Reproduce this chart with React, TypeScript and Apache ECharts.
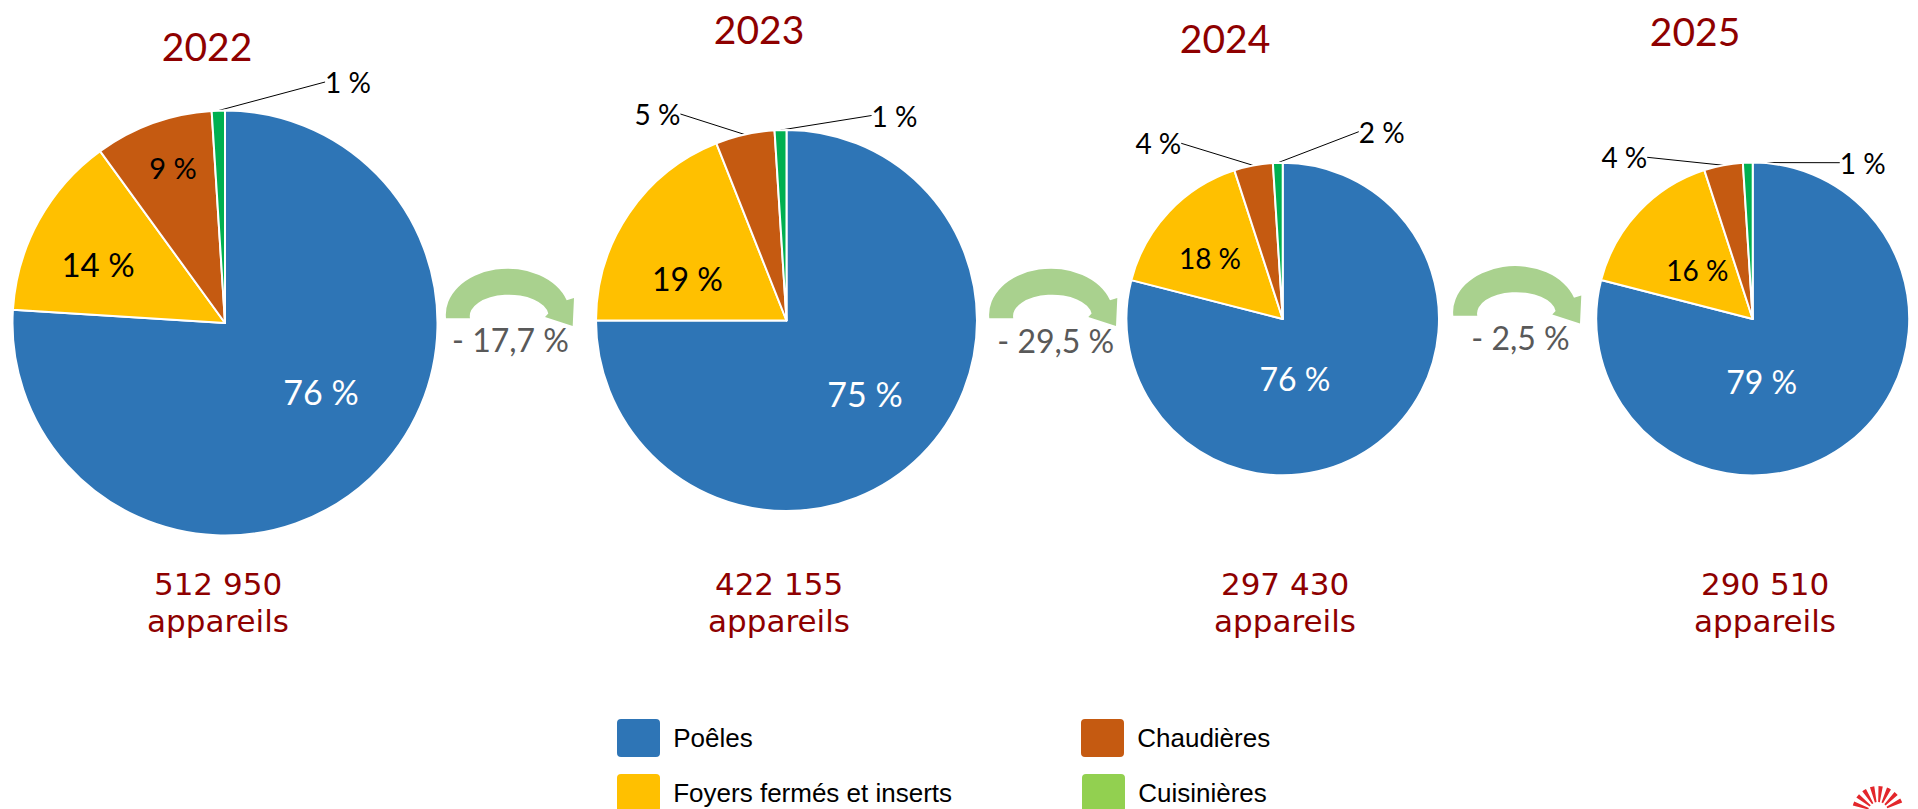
import React, { useEffect, useRef } from "react";
import * as echarts from "echarts";

// ---------------- data ----------------
const categories = ["Poêles", "Foyers fermés et inserts", "Chaudières", "Cuisinières"];
const years = ["2022", "2023", "2024", "2025"];
// slice sizes (percent) as drawn in the reference
const shares2022 = [76, 14, 9, 1];
const shares2023 = [75, 19, 5, 1];
const shares2024 = [79, 16, 4, 1];
const shares2025 = [79, 16, 4, 1];
// printed slice labels
const labels2022 = ["76 %", "14 %", "9 %", "1 %"];
const labels2023 = ["75 %", "19 %", "5 %", "1 %"];
const labels2024 = ["76 %", "18 %", "4 %", "2 %"];
const labels2025 = ["79 %", "16 %", "4 %", "1 %"];
const totals = ["512 950", "422 155", "297 430", "290 510"];
const unitText = "appareils";
const changes = ["- 17,7 %", "- 29,5 %", "- 2,5 %"];

const shares = [shares2022, shares2023, shares2024, shares2025];
const labels = [labels2022, labels2023, labels2024, labels2025];

// ---------------- styles & layout ----------------
const sliceColors = ["#2E75B6", "#FFC000", "#C55A11", "#00B050"];
const legendColors = ["#2E75B6", "#FFC000", "#C55A11", "#92D050"];
const darkRed = "#8E0000";
const arrowGreen = "#A9D18E";
const changeGrey = "#595959";

const pieLayout = [
  {
    cx: 225, cy: 323, r: 212.5, titleX: 207, titleY: 45.5, totalX: 217,
    fs: [34, 33, 29, 28], outside: [false, false, false, true],
    lab: [[96, 68], [-127, -59], [-52, -156], [123, -241]],
  },
  {
    cx: 786.5, cy: 320.5, r: 190.5, titleX: 759, titleY: 28.5, totalX: 778,
    fs: [34, 32, 28, 28], outside: [false, false, true, true],
    lab: [[78.5, 72.5], [-99, -42.5], [-129, -206.5], [108, -205]],
  },
  {
    cx: 1282.7, cy: 319, r: 156.3, titleX: 1225, titleY: 37.5, totalX: 1284,
    fs: [32, 28, 28, 28], outside: [false, false, true, true],
    lab: [[12.3, 59.3], [-72.7, -60.7], [-124.4, -175.7], [99, -187.3]],
  },
  {
    cx: 1752.7, cy: 319, r: 156.5, titleX: 1695, titleY: 31, totalX: 1764,
    fs: [32, 28, 28, 28], outside: [false, false, true, true],
    lab: [[9, 62.7], [-55.4, -49], [-128.4, -161.7], [110, -156.3]],
  },
];

const arrowLayout = [
  { x: 508, y: 318.3, tx: 510.5, ty: 339 },
  { x: 1051.3, y: 318.3, tx: 1055.8, ty: 340.5 },
  { x: 1515.3, y: 315.7, tx: 1520.5, ty: 337 },
];

// legend positions per category (icon left, item top)
const legendPos = [
  [615, 717],
  [615, 772],
  [1079, 717],
  [1080, 772],
];

// curved arrow shape (local coords, origin = centre of band baseline)
const arrowPath =
  "M -62 0 A 62 46 0 0 1 58.7 -18 L 66 -20.3 L 64.7 7.7 L 37 -1.3 L 40.3 -4.7 A 39 21 0 0 0 -38 0 Z";
echarts.graphic.registerShape("curvedArrow", echarts.graphic.extendPath(arrowPath, {}) as any);

const legendIcon =
  "path://M5,0 H40 Q45,0 45,5 V35 Q45,40 40,40 H5 Q0,40 0,35 V5 Q0,0 5,0 Z";

function buildOption() {
  const series = pieLayout.map((p, k) => ({
    type: "pie",
    name: years[k],
    center: [p.cx, p.cy],
    radius: p.r,
    startAngle: 90,
    clockwise: true,
    silent: true,
    avoidLabelOverlap: false,
    animation: false,
    emphasis: { disabled: true },
    itemStyle: { borderColor: "#ffffff", borderWidth: 2 },
    data: categories.map((name, i) => ({
      name,
      value: shares[k][i],
      itemStyle: { color: sliceColors[i] },
      label: {
        show: true,
        position: p.outside[i] ? "outside" : "inside",
        formatter: labels[k][i],
        color: i === 0 ? "#ffffff" : "#000000",
        fontSize: p.fs[i],
        fontFamily: "Lato",
        textBorderWidth: 0,
      },
      labelLine: {
        show: p.outside[i],
        length: 10,
        length2: 0,
        smooth: false,
        lineStyle: { color: "#000000", width: 1 },
      },
    })),
    labelLayout: (params: any) => {
      const o = p.lab[params.dataIndex];
      return {
        x: p.cx + o[0],
        y: p.cy + o[1],
        align: "center",
        verticalAlign: "middle",
      };
    },
  }));

  const legend = categories.map((name, i) => ({
    show: true,
    data: [{ name, itemStyle: { color: legendColors[i] } }],
    left: legendPos[i][0],
    top: legendPos[i][1],
    padding: 0,
    itemWidth: 45,
    itemHeight: 40,
    icon: legendIcon,
    selectedMode: false,
    formatter: " {name}",
    textStyle: { fontFamily: "Liberation Sans", fontSize: 26, lineHeight: 28, color: "#000000" },
  }));

  const graphics: any[] = [];
  pieLayout.forEach((p, k) => {
    graphics.push({
      type: "text",
      x: p.titleX,
      y: p.titleY,
      silent: true,
      style: {
        text: years[k],
        fill: darkRed,
        font: "39px Lato",
        align: "center",
        verticalAlign: "middle",
      },
    });
    graphics.push({
      type: "text",
      x: p.totalX + 1,
      y: 602.5,
      silent: true,
      style: {
        text: totals[k] + "\n" + unitText,
        fill: darkRed,
        font: "31px 'DejaVu Sans'",
        lineHeight: 37.5,
        align: "center",
        verticalAlign: "middle",
      },
    });
  });
  arrowLayout.forEach((a, k) => {
    graphics.push({
      type: "curvedArrow",
      x: a.x,
      y: a.y,
      silent: true,
      style: { fill: arrowGreen, stroke: null },
    });
    graphics.push({
      type: "text",
      x: a.tx,
      y: a.ty,
      silent: true,
      style: {
        text: changes[k],
        fill: changeGrey,
        font: "32px Lato",
        align: "center",
        verticalAlign: "middle",
      },
    });
  });
  // small logo, bottom right
  graphics.push({
    type: "arc",
    silent: true,
    shape: { cx: 1878, cy: 812, r: 18, startAngle: Math.PI * 1.08, endAngle: Math.PI * 1.92 },
    style: { stroke: "#E3262B", lineWidth: 16, fill: null, lineDash: [3, 3] },
  });

  return {
    animation: false,
    backgroundColor: "#ffffff",
    textStyle: { fontFamily: "Lato" },
    color: sliceColors,
    legend,
    series,
    graphic: { elements: graphics },
  };
}

export default function App() {
  const ref = useRef<HTMLDivElement>(null);
  useEffect(() => {
    if (!ref.current) return;
    const chart = echarts.init(ref.current, null, { renderer: "svg" });
    chart.setOption(buildOption() as any);
    return () => chart.dispose();
  }, []);
  return (
    <div
      ref={ref}
      style={{ position: "absolute", left: 0, top: 0, width: 1918, height: 809 }}
    />
  );
}
